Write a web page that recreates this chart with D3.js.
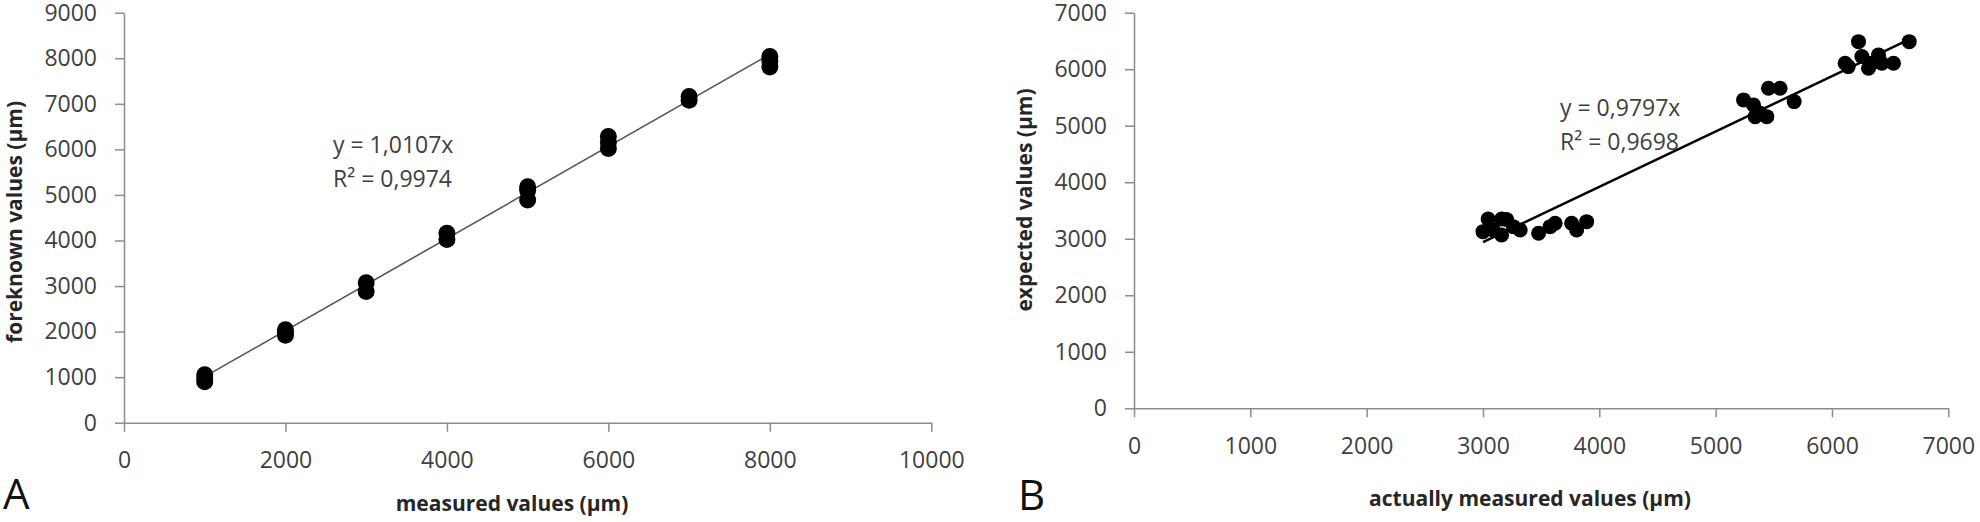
<!DOCTYPE html>
<html>
<head>
<meta charset="utf-8">
<script src="https://cdn.jsdelivr.net/npm/d3@7"></script>
<style>
  html, body { margin: 0; padding: 0; background: #fff; }
  svg { display: block; }
  text { font-family: "Open Sans", "DejaVu Sans", sans-serif; }
</style>
</head>
<body>
<svg id="chart" width="1980" height="522"></svg>
<script>
// ---------- Panel A data ----------
const aX = [1000, 1000, 1000, 2000, 2000, 2000, 3000, 3000, 4000, 4000, 5000, 5000, 5000,
            6000, 6000, 6000, 7000, 7000, 8000, 8000, 8000];
const aY = [1050, 960, 900, 2040, 1980, 1920, 3070, 2880, 4160, 4020, 5180, 5100, 4890,
            6280, 6150, 6020, 7160, 7080, 8040, 7940, 7810];
const aXTicks = [0, 2000, 4000, 6000, 8000, 10000];
const aYTicks = [0, 1000, 2000, 3000, 4000, 5000, 6000, 7000, 8000, 9000];
const aSlope = 1.0107;
const aTrendRange = [1000, 8000];
const aEquation = ["y = 1,0107x", "R² = 0,9974"];

// ---------- Panel B data ----------
const bX = [3000, 3044, 3160, 3203, 3088, 3160, 3260, 3320, 3478, 3577, 3620, 3762, 3805, 3891,
            5240, 5326, 5383, 5440, 5340, 5454, 5554, 5675,
            6228, 6664, 6113, 6140, 6257, 6314, 6343, 6400, 6429, 6529];
const bY = [3126, 3350, 3350, 3340, 3155, 3067, 3214, 3155, 3097, 3214, 3274, 3274, 3155, 3303,
            5457, 5368, 5221, 5161, 5161, 5664, 5664, 5427,
            6488, 6488, 6106, 6046, 6223, 6017, 6106, 6253, 6106, 6106];
const bXTicks = [0, 1000, 2000, 3000, 4000, 5000, 6000, 7000];
const bYTicks = [0, 1000, 2000, 3000, 4000, 5000, 6000, 7000];
const bSlope = 0.9797;
const bTrendRange = [3000, 6664];
const bEquation = ["y = 0,9797x", "R² = 0,9698"];

const svg = d3.select("#chart");

function panel(cfg) {
  const g = svg.append("g");
  const x = d3.scaleLinear().domain(cfg.xDomain).range(cfg.xRange);
  const y = d3.scaleLinear().domain(cfg.yDomain).range(cfg.yRange);

  const xAxis = g.append("g")
    .attr("transform", `translate(0,${cfg.yRange[0]})`)
    .call(d3.axisBottom(x).tickValues(cfg.xTicks).tickSizeInner(9).tickSizeOuter(0).tickPadding(20).tickFormat(d3.format("d")));
  const yAxis = g.append("g")
    .attr("transform", `translate(${cfg.xRange[0]},0)`)
    .call(d3.axisLeft(y).tickValues(cfg.yTicks).tickSizeInner(9).tickSizeOuter(0).tickPadding(18).tickFormat(d3.format("d")));
  [xAxis, yAxis].forEach(ax => {
    ax.select(".domain").attr("stroke", "#8c8c8c").attr("stroke-width", 1.5);
    ax.selectAll(".tick line").attr("stroke", "#8c8c8c").attr("stroke-width", 1.5);
    ax.selectAll(".tick text").attr("fill", "#404040").style("font-size", "23px")
      .style("font-family", '"Open Sans", sans-serif');
  });

  // trend line
  const line = d3.line().x(d => x(d)).y(d => y(d * cfg.slope));
  g.append("path").datum(cfg.trendRange)
    .attr("d", line).attr("fill", "none")
    .attr("stroke", cfg.trendColor).attr("stroke-width", cfg.trendWidth);

  // points
  g.selectAll("circle.pt").data(cfg.xs.map((v, i) => [v, cfg.ys[i]]))
    .enter().append("circle").attr("class", "pt")
    .attr("cx", d => x(d[0])).attr("cy", d => y(d[1]))
    .attr("r", cfg.r).attr("fill", "#000");

  // equation
  cfg.eq.forEach((t, i) => {
    g.append("text").attr("x", cfg.eqPos[0]).attr("y", cfg.eqPos[1] + i * 34)
      .attr("fill", "#404040").style("font-size", "23px").text(t);
  });

  // axis titles
  g.append("text").attr("x", cfg.xTitlePos[0]).attr("y", cfg.xTitlePos[1])
    .attr("text-anchor", "middle").attr("fill", "#262626")
    .style("font-size", "21px").style("font-weight", "bold").text(cfg.xTitle);
  g.append("text")
    .attr("transform", `translate(${cfg.yTitlePos[0]},${cfg.yTitlePos[1]}) rotate(-90)`)
    .attr("text-anchor", "middle").attr("fill", "#262626")
    .style("font-size", "21px").style("font-weight", "bold").text(cfg.yTitle);

  // panel letter
  g.append("text").attr("x", cfg.letterPos[0]).attr("y", cfg.letterPos[1])
    .attr("fill", "#111").style("font-size", "42px").text(cfg.letter);
}

panel({
  xDomain: [0, 10000], xRange: [124, 931.3],
  yDomain: [0, 9000], yRange: [422.7, 12.7],
  xTicks: aXTicks, yTicks: aYTicks,
  xs: aX, ys: aY, r: 8.5,
  slope: aSlope, trendRange: aTrendRange, trendColor: "#555", trendWidth: 1.6,
  eq: aEquation, eqPos: [333, 153],
  xTitle: "measured values (µm)", xTitlePos: [512, 511],
  yTitle: "foreknown values (µm)", yTitlePos: [22, 222],
  letter: "A", letterPos: [3, 509]
});

panel({
  xDomain: [0, 7000], xRange: [1134, 1948.3],
  yDomain: [0, 7000], yRange: [408.3, 12.7],
  xTicks: bXTicks, yTicks: bYTicks,
  xs: bX, ys: bY, r: 7.5,
  slope: bSlope, trendRange: bTrendRange, trendColor: "#000", trendWidth: 2.5,
  eq: bEquation, eqPos: [1560, 116],
  xTitle: "actually measured values (µm)", xTitlePos: [1530, 506],
  yTitle: "expected values (µm)", yTitlePos: [1032, 200],
  letter: "B", letterPos: [1018, 510]
});
</script>
</body>
</html>
